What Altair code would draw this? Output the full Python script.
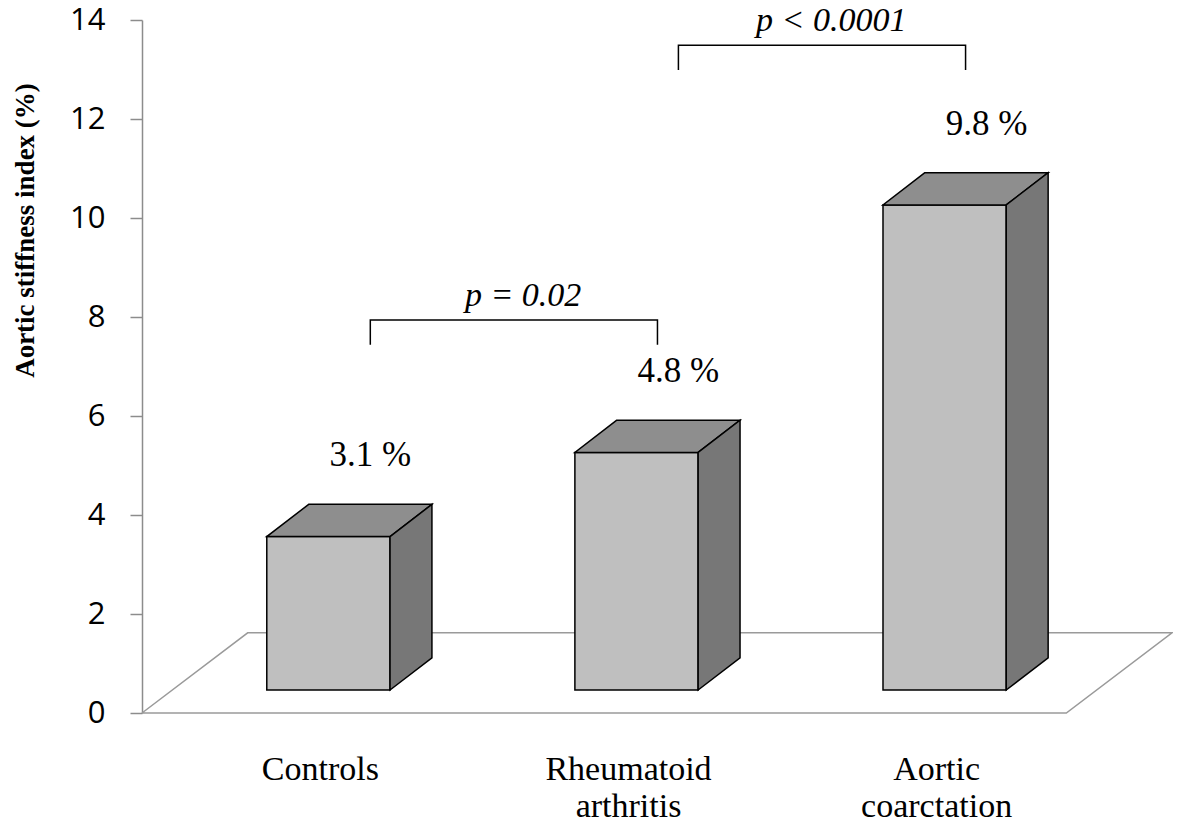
import altair as alt
import pandas as pd

# ---- data ----
categories = ["Controls", "Rheumatoid\narthritis", "Aortic\ncoarctation"]
values = [3.1, 4.8, 9.8]
value_labels = ["3.1 %", "4.8 %", "9.8 %"]
bracket_from = [0, 1]
bracket_to = [1, 2]
bracket_levels = [7.94, 13.49]
bracket_texts = ["p = 0.02", "p < 0.0001"]
y_ticks = [0, 2, 4, 6, 8, 10, 12, 14]

# ---- 3-D geometry (style constants) ----
HALF = 0.2      # half width of a bar (category units)
DU = 0.136      # depth shift to the right
DV = 0.65       # depth shift upward (value units)
BASE = 0.465    # where bars stand on the floor
X_MIN, X_MAX = -0.605, 2.738
FLOOR_DU, FLOOR_DV = 0.343, 1.62

x_scale = alt.Scale(domain=[X_MIN, X_MAX], nice=False, zero=False)
y_scale = alt.Scale(domain=[0, 14], nice=False, zero=True)
y_axis = alt.Axis(
    values=y_ticks, grid=False, domainColor="#8c8c8c", domainWidth=1.5,
    tickColor="#8c8c8c", tickSize=12, tickWidth=1.5, labelPadding=25,
    labelFont="Open Sans", labelFontSize=31, labelColor="black",
    title="Aortic stiffness index (%)", titleFont="Liberation Serif",
    titleFontSize=27, titleFontWeight="bold", titleColor="black",
    titleAngle=270, titleX=-117, titleY=210, titleAlign="center",
    titleBaseline="middle",
)


def X(field):
    return alt.X(f"{field}:Q", scale=x_scale, axis=None)


def Y(field):
    return alt.Y(f"{field}:Q", scale=y_scale, axis=y_axis)


# floor (parallelogram)
floor = pd.DataFrame({
    "x": [X_MIN, X_MAX - FLOOR_DU, X_MAX, X_MIN + FLOOR_DU, X_MIN],
    "y": [0, 0, FLOOR_DV, FLOOR_DV, 0],
    "o": [0, 1, 2, 3, 4],
})
floor_layer = alt.Chart(floor).mark_line(color="#9a9a9a", strokeWidth=1.5).encode(
    x=X("x"), y=Y("y"), order="o:Q"
)

# bar faces built from values
front_rows, top_rows, side_rows = [], [], []
for i, v in enumerate(values):
    xl, xr = i - HALF, i + HALF
    bot, top = BASE, BASE + v
    front_rows.append({"bar": i, "xl": xl, "xr": xr, "bot": bot, "top": top})
    top_rows += [
        {"bar": i, "y": top, "xa": xl, "xb": xr},
        {"bar": i, "y": top + DV, "xa": xl + DU, "xb": xr + DU},
    ]
    side_rows += [
        {"bar": i, "x": xr, "ya": bot, "yb": top},
        {"bar": i, "x": xr + DU, "ya": bot + DV, "yb": top + DV},
    ]

front = alt.Chart(pd.DataFrame(front_rows)).mark_rect(
    color="#bfbfbf", stroke="black", strokeWidth=1.5
).encode(x=X("xl"), x2="xr:Q", y=Y("top"), y2="bot:Q")

top_face = alt.Chart(pd.DataFrame(top_rows)).mark_area(
    orient="horizontal", color="#8e8e8e", stroke="black", strokeWidth=1.5,
    opacity=1,
).encode(y=Y("y"), x=X("xa"), x2="xb:Q", detail="bar:N")

side_face = alt.Chart(pd.DataFrame(side_rows)).mark_area(
    orient="vertical", color="#777777", stroke="black", strokeWidth=1.5,
    opacity=1,
).encode(x=X("x"), y=Y("ya"), y2="yb:Q", detail="bar:N")

# value labels above bars
vl = pd.DataFrame({
    "x": [i + DU for i in range(len(values))],
    "y": [BASE + v + DV for v in values],
    "t": value_labels,
})
value_text = alt.Chart(vl).mark_text(
    font="Liberation Serif", fontSize=35, color="black", dy=-38,
    baseline="alphabetic", align="center",
).encode(x=X("x"), y=Y("y"), text="t:N")

# category labels
cl = pd.DataFrame({"x": list(range(len(categories))), "y": [0] * len(categories),
                   "t": categories})
cat_text = alt.Chart(cl).mark_text(
    font="Liberation Serif", fontSize=34, color="black", dy=67, dx=-8,
    baseline="alphabetic", align="center", lineBreak="\n", lineHeight=37,
).encode(x=X("x"), y=Y("y"), text="t:N")

# significance brackets
br_rows, pt_rows = [], []
for k, (a, b, lvl, txt) in enumerate(zip(bracket_from, bracket_to, bracket_levels, bracket_texts)):
    xa, xb = a + DU, b + DU / 2
    for o, (xx, yy) in enumerate([(xa, lvl - 0.5), (xa, lvl), (xb, lvl), (xb, lvl - 0.5)]):
        br_rows.append({"k": k, "o": o, "x": xx, "y": yy})
    pt_rows.append({"x": (xa + xb) / 2 + 0.03, "y": lvl, "t": txt})

brackets = alt.Chart(pd.DataFrame(br_rows)).mark_line(
    color="black", strokeWidth=1.5
).encode(x=X("x"), y=Y("y"), order="o:Q", detail="k:N")

p_text = alt.Chart(pd.DataFrame(pt_rows)).mark_text(
    font="Liberation Serif", fontSize=34, fontStyle="italic", color="black",
    dy=-14, baseline="alphabetic", align="center",
).encode(x=X("x"), y=Y("y"), text="t:N")

chart = alt.layer(
    floor_layer, front, top_face, side_face, value_text, cat_text, brackets, p_text
).properties(
    width=1030, height=693,
    padding={"left": 134, "top": 12, "right": 1, "bottom": 110},
    autosize=alt.AutoSizeParams(type="none"),
    background="white",
).configure_view(stroke=None)

chart.save("out.html", embed_options={"renderer": "svg", "actions": False})
